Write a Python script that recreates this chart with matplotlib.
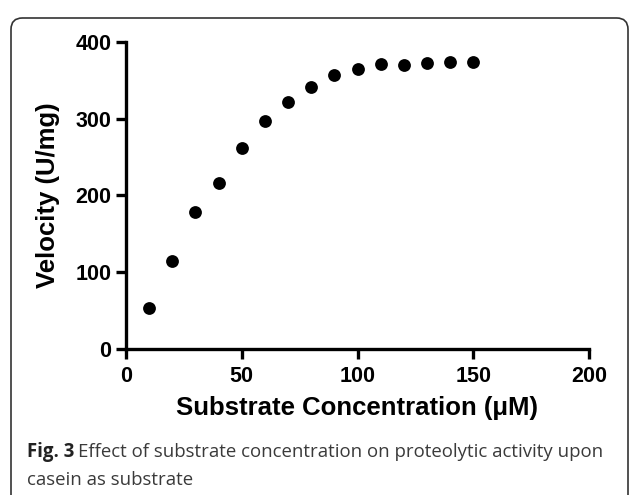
import matplotlib.pyplot as plt
from matplotlib.patches import FancyBboxPatch

# data
substrate = [10, 20, 30, 40, 50, 60, 70, 80, 90, 100, 110, 120, 130, 140, 150]
velocity = [54, 114, 178, 216, 262, 297, 322, 341, 357, 365, 371, 370, 372, 374, 374]
xticks = [0, 50, 100, 150, 200]
yticks = [0, 100, 200, 300, 400]

plt.rcParams['font.family'] = ['Liberation Sans', 'DejaVu Sans']

W, H = 630, 495
fig = plt.figure(figsize=(W / 100, H / 100), dpi=100)

# rounded frame around the figure and caption
frame = FancyBboxPatch((11 / W, -0.1), (628 - 11) / W, 1.1 - 18 / H,
                       boxstyle='round,pad=0,rounding_size=0.018',
                       transform=fig.transFigure, facecolor='none',
                       edgecolor='#333333', linewidth=1.2, mutation_aspect=W / H)
fig.patches.append(frame)

ax = fig.add_axes([126 / W, 1 - 349 / H, (589 - 126) / W, (349 - 41.7) / H])
ax.scatter(substrate, velocity, s=85, color='black', linewidths=0, zorder=5, clip_on=False)
ax.set_xlim(0, 200)
ax.set_ylim(0, 400)
ax.set_xticks(xticks)
ax.set_yticks(yticks)
for side in ['top', 'right']:
    ax.spines[side].set_visible(False)
for side in ['left', 'bottom']:
    ax.spines[side].set_linewidth(2.4)
ax.tick_params(width=2.4, length=7.5, labelsize=15.5)
ax.tick_params(axis='x', pad=5)
ax.tick_params(axis='y', pad=3)
for lab in ax.get_xticklabels() + ax.get_yticklabels():
    lab.set_fontweight('bold')
ax.set_xlabel('Substrate Concentration (μM)', fontsize=18.5, fontweight='bold', labelpad=6)
ax.set_ylabel('Velocity (U/mg)', fontsize=18.5, fontweight='bold', labelpad=11)

# caption
cap_font = ['Open Sans', 'DejaVu Sans']
cap_color = '#3a3a3a'
cap_size = 13.4
fig.canvas.draw()
r = fig.canvas.get_renderer()
t1 = fig.text(27 / W, 1 - 457 / H, 'Fig. 3', fontsize=cap_size, fontweight='bold',
              family=cap_font, color='#222222', va='baseline')
bb = t1.get_window_extent(renderer=r)
fig.text((bb.x1 + 4) / W, 1 - 457 / H,
         'Effect of substrate concentration on proteolytic activity upon',
         fontsize=cap_size, family=cap_font, color=cap_color, va='baseline')
fig.text(27 / W, 1 - 485 / H, 'casein as substrate', fontsize=cap_size,
         family=cap_font, color=cap_color, va='baseline')

fig.savefig('out.png', dpi=100)
